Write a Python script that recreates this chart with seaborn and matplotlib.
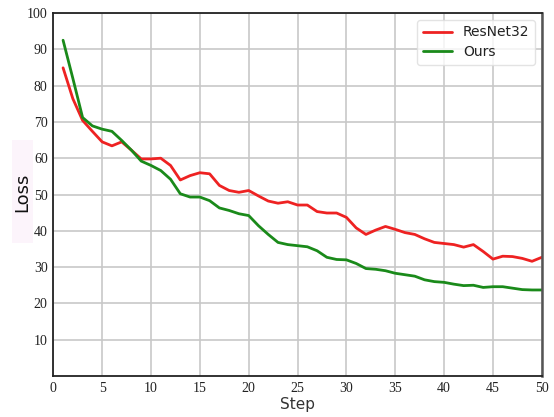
import numpy as np
import pandas as pd
import matplotlib
matplotlib.use("Agg")
import matplotlib.pyplot as plt
from matplotlib.patches import Rectangle
import seaborn as sns

steps = list(range(1, 51))
resnet32 = [84.9, 76.4, 70.4, 67.4, 64.5, 63.4, 64.5, 62.2, 59.8, 59.8,
            60.0, 58.0, 54.0, 55.2, 56.0, 55.7, 52.5, 51.1, 50.6, 51.1,
            49.6, 48.2, 47.6, 48.0, 47.1, 47.1, 45.3, 44.9, 44.9, 43.7,
            40.8, 39.0, 40.2, 41.2, 40.4, 39.5, 39.0, 37.8, 36.8, 36.5,
            36.2, 35.5, 36.2, 34.3, 32.2, 33.0, 32.9, 32.4, 31.6, 32.7]
ours = [92.5, 82.0, 71.2, 68.9, 68.0, 67.4, 64.9, 62.2, 59.2, 58.0,
        56.6, 54.2, 50.2, 49.3, 49.3, 48.3, 46.3, 45.6, 44.7, 44.2,
        41.4, 39.0, 36.8, 36.2, 35.9, 35.6, 34.5, 32.7, 32.1, 32.0,
        31.0, 29.6, 29.4, 29.0, 28.3, 27.9, 27.5, 26.5, 26.0, 25.8,
        25.3, 24.9, 25.0, 24.4, 24.6, 24.6, 24.2, 23.8, 23.7, 23.7]
series_names = ["ResNet32", "Ours"]
series_colors = ["#ee2222", "#1a8a1a"]
x_ticks = list(range(0, 51, 5))
y_ticks = list(range(10, 101, 10))

df = pd.DataFrame({
    "Step": steps * 2,
    "Loss": resnet32 + ours,
    "Model": [series_names[0]] * len(steps) + [series_names[1]] * len(steps),
})

sns.set_style("white")
plt.rcParams["font.family"] = ["DejaVu Sans"]

fig = plt.figure(figsize=(5.54, 4.17), dpi=100)
ax = fig.add_axes([53.3 / 554, 41 / 417, (541.8 - 53.3) / 554, (376 - 13) / 417])

sns.lineplot(data=df, x="Step", y="Loss", hue="Model",
             palette=dict(zip(series_names, series_colors)),
             linewidth=2.0, ax=ax)

ax.set_xlim(0, 50)
ax.set_ylim(0, 100)
ax.set_xticks(x_ticks)
ax.set_yticks(y_ticks)
ax.grid(True, color="#c8c8c8", linewidth=1.2)
ax.set_axisbelow(True)

for lbl in ax.get_xticklabels() + ax.get_yticklabels():
    lbl.set_fontfamily("Liberation Serif")
    lbl.set_fontsize(10)
    lbl.set_color("#222222")
ax.tick_params(direction="in", length=4, width=1.2, color="#333333",
               top=False, right=False, pad=4)

for side in ["left", "bottom", "top"]:
    ax.spines[side].set_color("#222222")
    ax.spines[side].set_linewidth(1.3)
ax.spines["right"].set_color("#555555")
ax.spines["right"].set_linewidth(1.8)

ax.set_xlabel("Step", fontsize=11, color="#333333", labelpad=2)
ax.set_ylabel("")
fig.patches.append(Rectangle((12 / 554, 1 - 243 / 417), 21 / 554, 103 / 417,
                             transform=fig.transFigure, facecolor="#fcf4fb",
                             edgecolor="none", zorder=0))
fig.text(22 / 554, 1 - 192 / 417, "Loss", rotation=90, fontsize=13,
         color="#111111", ha="center", va="center")

leg = ax.legend(loc="upper right", fontsize=10, frameon=True,
                handlelength=2.1, borderpad=0.4, labelspacing=0.4,
                bbox_to_anchor=(1.0, 1.0))
leg.get_frame().set_edgecolor("#dddddd")
leg.get_frame().set_linewidth(1.0)
leg.set_title(None)
for t in leg.get_texts():
    t.set_color("#222222")

fig.savefig("out.png", dpi=100)
